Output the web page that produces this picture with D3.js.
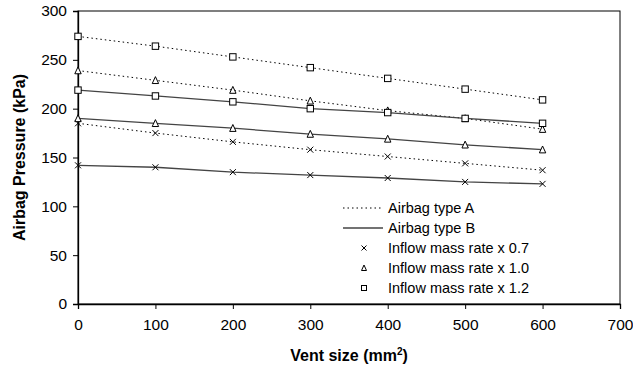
<!DOCTYPE html>
<html>
<head>
<meta charset="utf-8">
<script src="https://cdn.jsdelivr.net/npm/d3@7/dist/d3.min.js"></script>
<style>
  body { margin: 0; background: #fff; }
  text { font-family: "Liberation Sans", Arial, sans-serif; fill: #000; }
  .tick text { font-size: 15.5px; }
  .axisTitle { font-size: 16px; font-weight: bold; }
  .legendText { font-size: 14.5px; }
</style>
</head>
<body>
<div id="chart"></div>
<script>
// vent size (mm2)
var ventSizes = [0, 100, 200, 300, 400, 500, 600];

// airbag type A (dotted)
var typeA_07 = [185, 175, 166, 158, 151, 144, 137];
var typeA_10 = [239, 229, 219, 208, 198, 190, 179];
var typeA_12 = [274, 264, 253, 242, 231, 220, 209];

// airbag type B (solid)
var typeB_07 = [142, 140, 135, 132, 129, 125, 123];
var typeB_10 = [190, 185, 180, 174, 169, 163, 158];
var typeB_12 = [219, 213, 207, 200, 196, 190, 185];

var xTicks = [0, 100, 200, 300, 400, 500, 600, 700];
var yTicks = [0, 50, 100, 150, 200, 250, 300];

var series = [
    {values: typeA_07, type: "A", marker: "cross"},
    {values: typeA_10, type: "A", marker: "triangle"},
    {values: typeA_12, type: "A", marker: "square"},
    {values: typeB_07, type: "B", marker: "cross"},
    {values: typeB_10, type: "B", marker: "triangle"},
    {values: typeB_12, type: "B", marker: "square"}
];

var legendItems = [
    {label: "Airbag type A", line: "A"},
    {label: "Airbag type B", line: "B"},
    {label: "Inflow mass rate x 0.7", marker: "cross"},
    {label: "Inflow mass rate x 1.0", marker: "triangle"},
    {label: "Inflow mass rate x 1.2", marker: "square"}
];

var width = 633, height = 369;
var margin = {top: 11, right: 13, bottom: 65, left: 78};

var svg = d3.select("#chart").append("svg")
    .attr("width", width)
    .attr("height", height);

var x = d3.scaleLinear().domain([0, 700]).range([margin.left, width - margin.right]);
var y = d3.scaleLinear().domain([0, 300]).range([height - margin.bottom, margin.top]);

// frame (top and right)
svg.append("rect")
    .attr("x", x(0)).attr("y", y(300))
    .attr("width", x(700) - x(0)).attr("height", y(0) - y(300))
    .attr("fill", "none").attr("stroke", "#000").attr("stroke-width", 1);

// axes
var xAxis = svg.append("g")
    .attr("transform", "translate(0," + y(0) + ")")
    .call(d3.axisBottom(x).tickValues(xTicks).tickSize(5).tickPadding(10).tickFormat(d3.format("d")));
var yAxis = svg.append("g")
    .attr("transform", "translate(" + x(0) + ",0)")
    .call(d3.axisLeft(y).tickValues(yTicks).tickSize(5).tickPadding(6).tickFormat(d3.format("d")));
[xAxis, yAxis].forEach(function(a){
    a.select(".domain").attr("stroke", "#000").attr("stroke-width", 1.3);
    a.selectAll(".tick line").attr("stroke", "#000");
    a.selectAll(".tick text").attr("fill", "#000").style("font-family", "Liberation Sans, Arial, sans-serif");
});

// axis titles
svg.append("text")
    .attr("class", "axisTitle")
    .attr("text-anchor", "middle")
    .attr("x", (x(0) + x(700)) / 2)
    .attr("y", 361)
    .html('Vent size (mm<tspan dy="-6" font-size="10px">2</tspan><tspan dy="6">)</tspan>');

svg.append("text")
    .attr("class", "axisTitle")
    .attr("text-anchor", "middle")
    .attr("transform", "translate(25," + (y(0) + y(300)) / 2 + ") rotate(-90)")
    .text("Airbag Pressure (kPa)");

function lineStyle(sel, type) {
    if (type == "A") {
        sel.attr("stroke", "#000").attr("stroke-width", 1).attr("stroke-dasharray", "1.5,3");
    } else {
        sel.attr("stroke", "#444").attr("stroke-width", 1.3);
    }
}

function drawMarker(g, kind, cx, cy, s) {
    if (kind == "cross") {
        g.append("path")
            .attr("d", "M" + (cx - s) + "," + (cy - s) + "L" + (cx + s) + "," + (cy + s) +
                       "M" + (cx - s) + "," + (cy + s) + "L" + (cx + s) + "," + (cy - s))
            .attr("stroke", "#000").attr("stroke-width", 1).attr("fill", "none");
    } else if (kind == "triangle") {
        g.append("path")
            .attr("d", "M" + cx + "," + (cy - s - 0.5) + "L" + (cx + s) + "," + (cy + s) + "L" + (cx - s) + "," + (cy + s) + "Z")
            .attr("stroke", "#000").attr("stroke-width", 1).attr("fill", "#fff");
    } else {
        g.append("rect")
            .attr("x", cx - s).attr("y", cy - s)
            .attr("width", 2 * s).attr("height", 2 * s)
            .attr("stroke", "#000").attr("stroke-width", 1).attr("fill", "#fff");
    }
}

var line = d3.line()
    .x(function(d, i){ return x(ventSizes[i]); })
    .y(function(d){ return y(d); });

series.forEach(function(s){
    svg.append("path")
        .datum(s.values)
        .attr("fill", "none")
        .attr("d", line)
        .call(lineStyle, s.type);
});

series.forEach(function(s){
    var g = svg.append("g");
    s.values.forEach(function(v, i){
        drawMarker(g, s.marker, x(ventSizes[i]), y(v), s.marker == "cross" ? 3 : 3.2);
    });
});

// legend
var legend = svg.append("g");
legendItems.forEach(function(item, i){
    var ly = 208 + i * 20;
    if (item.line) {
        legend.append("line")
            .attr("x1", 343).attr("x2", 383)
            .attr("y1", ly).attr("y2", ly)
            .call(lineStyle, item.line);
    } else {
        drawMarker(legend, item.marker, 364, ly, 2.5);
    }
    legend.append("text")
        .attr("class", "legendText")
        .attr("x", 388)
        .attr("y", ly + 5)
        .text(item.label);
});
</script>
</body>
</html>
